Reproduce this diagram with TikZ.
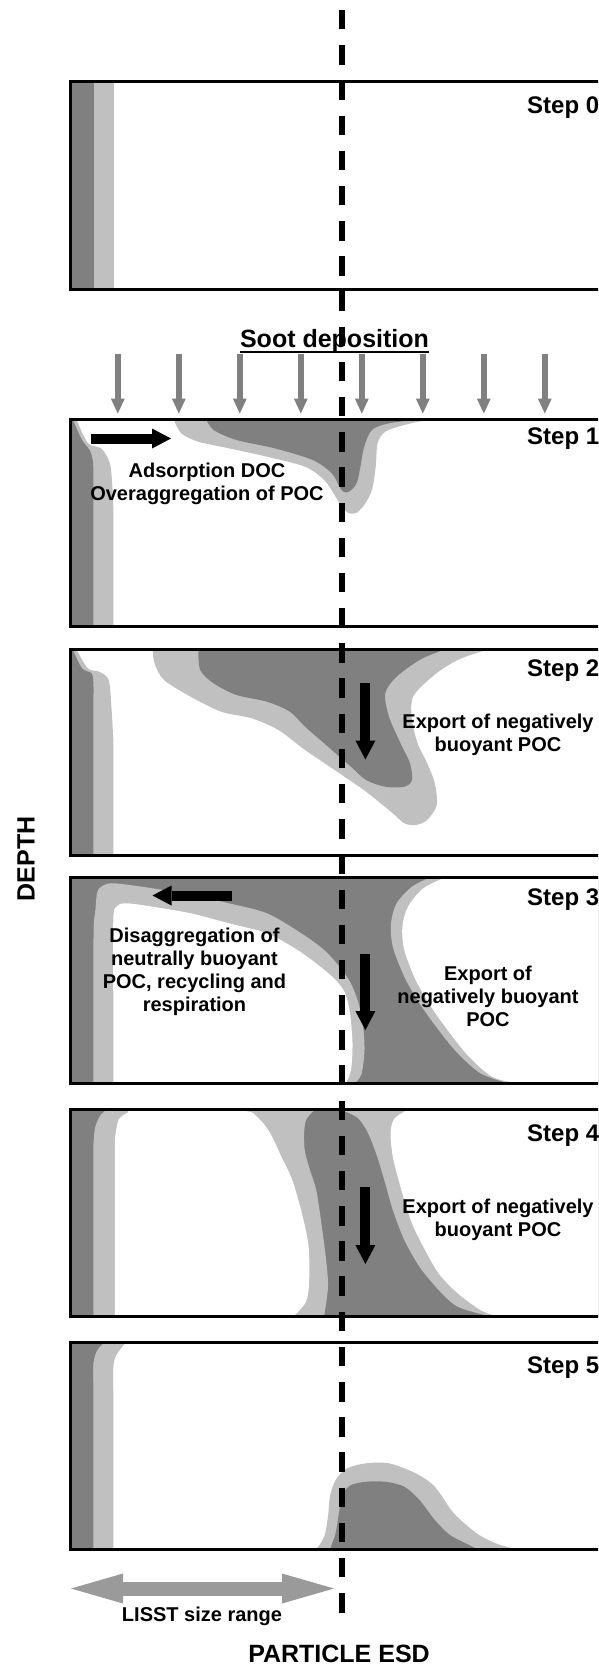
\documentclass[tikz,border=0pt]{standalone}
\usepackage{fontspec}
\setmainfont{Liberation Sans}
\usetikzlibrary{arrows.meta}
\definecolor{darkpoc}{HTML}{808080}
\definecolor{lightpoc}{HTML}{C0C0C0}
\definecolor{sootgray}{HTML}{808080}
\definecolor{lisstgray}{HTML}{9A9A9A}
\newcommand{\bigFont}{\bfseries\fontsize{25}{30}\selectfont}
\newcommand{\stepFont}{\bfseries\fontsize{24}{28}\selectfont}
\newcommand{\noteFont}{\bfseries\fontsize{20}{23}\selectfont}

\begin{document}
\begin{tikzpicture}[x=1pt, y=-1pt,
    every node/.style={inner sep=0pt},
    panel/.style={line width=3pt},
    dark/.style={fill=darkpoc},
    light/.style={fill=lightpoc},
    blank/.style={fill=white},
    steplabel/.style={font=\stepFont, anchor=base west},
    note/.style={font=\noteFont, align=center, anchor=base},
    bignote/.style={font=\bigFont},
    blackarrow/.style={line width=10pt, -{Triangle[width=20pt,length=19pt,line width=0pt]}},
    sootarrow/.style={draw=sootgray, line width=6pt, -{Triangle[width=14pt,length=15pt,line width=0pt]}},
    lisstarrow/.style={draw=lisstgray, line width=14pt,
        {Triangle[width=30pt,length=52pt,line width=0pt]}-{Triangle[width=30pt,length=52pt,line width=0pt]}},
    dashline/.style={line width=5.3pt, dash pattern=on 19.5pt off 15.68pt}]
  \useasboundingbox (0,0) rectangle (598,1664);
  \clip (0,0) rectangle (598,1664);

  % step 0
  \fill[dark] (70,82) rectangle (94,289);
  \fill[light] (94,82) rectangle (113.5,289);

  % step 1
  \fill[light] (70,419) -- plot[smooth] coordinates {(76.3,419) (87.7,443) (101,448.3) (108.7,460) (111.4,473.3) (113.3,507) (113.3,540)} -- (113.3,626) -- (70,626) -- cycle;
  \fill[dark] (70,419) -- plot[smooth] coordinates {(72.5,419) (82,440) (89.6,450) (92.7,460) (93.4,473.3) (93.4,500)} -- (93.4,626) -- (70,626) -- cycle;
  \fill[light] plot[smooth] coordinates {(173.5,419) (181.2,433.3) (198.3,441.7) (228.8,448.3) (267,456.7) (305,466.7) (324.2,480) (335.6,496.7) (341.3,506.7) (349,513.3) (356.6,512.7) (364.2,505) (371.9,490) (375.7,466.7) (377.6,443.3) (385.2,431.7) (404.3,425) (431,419)} -- cycle;
  \fill[dark] plot[smooth] coordinates {(206,419) (213.6,430) (236.5,440) (274.6,448.3) (312.7,460) (331.8,473.3) (339.4,486.7) (343.3,491.7) (349,491.7) (356.6,483.3) (360.4,466.7) (364.2,446.7) (371.9,430) (389,423.3) (423.3,419)} -- cycle;

  % step 2
  \fill[light] (70,649) -- plot[smooth] coordinates {(76.3,649) (87.7,668.3) (99.2,671.7) (108.7,680) (111.4,706.7) (113.3,740)} -- (113.3,855) -- (70,855) -- cycle;
  \fill[dark] (70,649) -- plot[smooth] coordinates {(72.5,649) (82,668.3) (91.5,673.3) (93.4,683.3) (93.4,700)} -- (93.4,855) -- (70,855) -- cycle;
  \fill[light] plot[smooth] coordinates {(152.6,649) (154.5,663.3) (164,680) (190.7,696.7) (221.2,711.7) (251.7,718.3) (278.4,730) (305.1,750) (339.4,773.3) (366.1,791.7) (392.8,813.3) (404.3,823.3) (415.7,825) (427.2,820) (436.7,805) (434.8,783.3) (427.2,763.3) (417.6,743.3) (411.9,720) (411.9,700) (419.5,688.3) (438.6,671.7) (457.7,660) (480.5,651.7) (492,649)} -- cycle;
  \fill[dark] plot[smooth] coordinates {(198.3,649) (200.2,670) (213.6,683.3) (236.5,695) (267,701.7) (289.9,711.7) (305.1,726.7) (328,746.7) (350.9,766.7) (366.1,780) (385.2,786.7) (404.3,786.7) (411.9,780) (410,763.3) (400.5,743.3) (389,716.7) (385.2,693.3) (396.6,676.7) (419.5,660) (438.6,651.7) (446.2,649)} -- cycle;

  % step 3
  \fill[dark] (70,877) rectangle (620,1083);
  \fill[light] (93.4,1083) -- plot[smooth] coordinates {(93.4,1000) (93.6,930) (95.4,910) (97.3,892) (103,885.5) (114.4,883.3) (152.6,888.3) (190.7,895) (228.8,903.3) (267,913.3) (301.3,933.3) (324.2,950) (339.4,966.7) (350.9,983.3) (358.5,1003.3) (362.8,1023.3) (364.5,1050) (361.5,1074) (355,1083)} -- cycle;
  \fill[blank] (113.3,1083) -- plot[smooth] coordinates {(113.3,1000) (113.3,920) (116.3,906.7) (125.9,903.3) (152.6,906.7) (190.7,913.3) (228.8,923.3) (267,933.3) (297.5,950) (320.4,966.7) (335.6,980) (345.2,993.3) (350,1013.3) (352.5,1043.3) (351,1070) (346,1083)} -- cycle;
  \fill[light] plot[smooth] coordinates {(431,877) (412,886.7) (396.6,903.3) (391,923.3) (392.8,946.7) (404.3,976.7) (419.5,1003.3) (438.6,1030) (457.7,1053.3) (480.5,1073.3) (507.3,1083)} -- (620,1083) -- (620,877) -- cycle;
  \fill[blank] plot[smooth] coordinates {(446,877) (423.3,888.3) (408,906.7) (402.4,926.7) (404.3,950) (415.7,980) (431,1006.7) (450,1033.3) (469,1056.7) (492,1076.7) (514.9,1083)} -- (620,1083) -- (620,877) -- cycle;

  % step 4
  \fill[dark] (70,1109.5) rectangle (620,1316);
  \fill[light] (93.4,1316) -- plot[smooth] coordinates {(93.4,1145) (95,1128) (100,1116) (106.8,1109.5)} -- (313,1109.5) -- plot[smooth] coordinates {(313,1111.5) (306,1120) (304,1135) (305,1152) (310,1170) (316.6,1192) (322.3,1230) (326.1,1260) (328,1286.7) (324.2,1316)} -- cycle;
  \fill[blank] (114.8,1316) -- plot[smooth] coordinates {(114.8,1140) (118.5,1120) (128,1112.5) (137,1110.5) (240,1110.5) (258,1118) (270,1133) (282,1158) (293,1182) (304,1222) (308.9,1250) (308.9,1286.7) (305.1,1303.3) (293.7,1316)} -- cycle;
  \fill[light] (345,1109.5) -- plot[smooth] coordinates {(345,1111.5) (358,1118) (368,1133) (377,1156) (385.2,1183.3) (392.8,1210) (404.3,1240) (419.5,1266.7) (438.6,1290) (457.7,1306.7) (488.2,1316)} -- (620,1316) -- (620,1109.5) -- cycle;
  \fill[blank] (404.3,1109.5) -- plot[smooth] coordinates {(404.3,1111.7) (394,1119) (390.5,1133.3) (392.8,1156.7) (398.6,1180) (404.3,1200) (411.9,1223.3) (423.3,1246.7) (438.6,1273.3) (457.7,1293.3) (480.5,1310) (495.8,1316)} -- (620,1316) -- (620,1109.5) -- cycle;

  % step 5
  \fill[light] (70,1342) -- plot[smooth] coordinates {(126,1342) (116.3,1355) (113.3,1367) (113.3,1390)} -- (113.3,1549) -- (70,1549) -- cycle;
  \fill[dark] (70,1342) -- plot[smooth] coordinates {(105,1342) (97.3,1350) (93.4,1363) (93.4,1390)} -- (93.4,1549) -- (70,1549) -- cycle;
  \fill[light] plot[smooth] coordinates {(316.6,1549) (324.2,1536.7) (328,1516.7) (329.9,1496.7) (335.6,1480) (347.1,1468.3) (366.1,1463.3) (389,1463.3) (415.7,1473.3) (434.8,1486.7) (453.9,1513.3) (476.7,1533.3) (495.8,1543.3) (514.9,1549)} -- cycle;
  \fill[dark] plot[smooth] coordinates {(330,1549) (335.6,1533.3) (339.4,1510) (343.3,1493.3) (350.9,1485) (366.1,1481.7) (385.2,1481.7) (404.3,1486.7) (419.5,1500) (434.8,1520) (450,1535) (469.1,1545) (476.7,1549)} -- cycle;

  % panel frames and labels
  \foreach \t/\b in {82/289, 419/626, 649/855, 877/1083, 1109.5/1316, 1342/1549}
    \draw[panel] (70,\t) rectangle (620,\b);
  \foreach \n/\yb in {0/114, 1/444, 2/676, 3/905, 4/1141, 5/1373}
    \node[steplabel] (step\n) at (527,\yb) {Step \n};

  \node[bignote, anchor=base] (soot) at (334.5,347) {Soot deposition};
  \draw[line width=2.5pt] ([yshift=-5pt]soot.base west) -- ([yshift=-5pt]soot.base east);
  \foreach \i in {0,...,7}
    \draw[sootarrow] ({117.8+61*\i},353.5) -- ++(0,60);

  % multi-line notes: base = last line
  \node[note] (adsorb) at (207,500) {Adsorption DOC\\Overaggregation of POC};
  \node[note] (export2) at (498,751) {Export of negatively\\buoyant POC};
  \node[note] (disagg) at (194.5,1011) {Disaggregation of\\neutrally buoyant\\POC, recycling and\\respiration};
  \node[note] (export3) at (488,1026.5) {Export of\\negatively buoyant\\POC};
  \node[note] (export4) at (498,1236.5) {Export of negatively\\buoyant POC};

  \draw[blackarrow] (91,438.5) -- (171,438.5);
  \draw[blackarrow] (365.4,683) -- (365.4,759.5);
  \draw[blackarrow] (232,895.5) -- (152.5,895.5);
  \draw[blackarrow] (365.4,953.5) -- (365.4,1030);
  \draw[blackarrow] (365.4,1186.5) -- (365.4,1264);

  % axes
  \node[bignote, rotate=90] (depth) at (26,859) {DEPTH};
  \draw[lisstarrow] (71,1588.5) -- (334,1588.5);
  \node[note] (lisst) at (202,1621.5) {LISST size range};
  \node[bignote, anchor=base] (esd) at (339,1662) {PARTICLE ESD};

  \draw[dashline] (342,10) -- (342,1613);
\end{tikzpicture}
\end{document}
